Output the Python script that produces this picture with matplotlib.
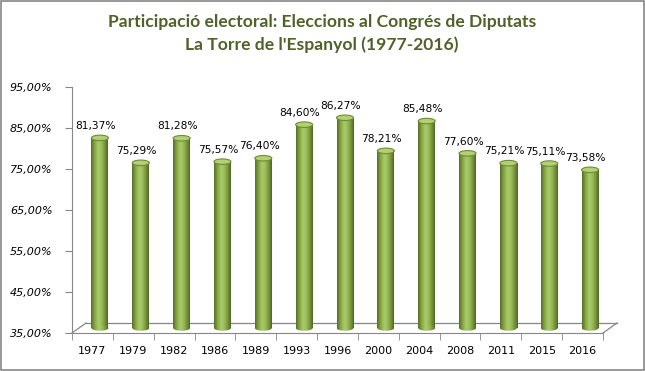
import matplotlib
matplotlib.use("Agg")
import matplotlib.pyplot as plt
import numpy as np
from matplotlib.patches import Rectangle, Ellipse
from matplotlib.colors import LinearSegmentedColormap
from matplotlib.ticker import FixedLocator

years = ["1977", "1979", "1982", "1986", "1989", "1993", "1996", "2000",
         "2004", "2008", "2011", "2015", "2016"]
participation = [81.37, 75.29, 81.28, 75.57, 76.40, 84.60, 86.27, 78.21,
                 85.48, 77.60, 75.21, 75.11, 73.58]
y_ticks = [35, 45, 55, 65, 75, 85, 95]
title_lines = ["Participació electoral: Eleccions al Congrés de Diputats",
               "La Torre de l'Espanyol (1977-2016)"]

W, H = 645, 371
fig = plt.figure(figsize=(W / 100, H / 100), dpi=100)
fig.patch.set_facecolor("white")

# axes placement in pixels
ax_l, ax_r, ax_b, ax_t = 72, 603, 333, 87
ax = fig.add_axes([ax_l / W, (H - ax_b) / H, (ax_r - ax_l) / W, (ax_b - ax_t) / H])
ax.set_xlim(0, len(years))
ax.set_ylim(35, 95)
ax.set_facecolor("none")

px_x = (ax_r - ax_l) / len(years)      # pixels per category
px_y = (ax_b - ax_t) / 60.0            # pixels per percent

grey = "#868686"
for s in ["top", "right"]:
    ax.spines[s].set_visible(False)
ax.spines["left"].set_color(grey)
ax.spines["bottom"].set_color(grey)

# 3D floor
dx_floor = 14 / px_x
dy_floor = 10 / px_y
n = len(years)
ax.plot([0, dx_floor], [35, 35 + dy_floor], color=grey, lw=0.9, clip_on=False)
ax.plot([n, n + dx_floor], [35, 35 + dy_floor], color=grey, lw=0.9, clip_on=False)
ax.plot([dx_floor, n + dx_floor], [35 + dy_floor, 35 + dy_floor], color=grey, lw=0.9, clip_on=False)

# cylinder gradient
cmap = LinearSegmentedColormap.from_list(
    "cyl", [(0.0, "#566f28"), (0.18, "#7f9f40"), (0.42, "#aacb6a"),
            (0.6, "#9fbf5d"), (0.85, "#718f37"), (1.0, "#506823")])
grad = np.linspace(0, 1, 64).reshape(1, -1)

bw = 17 / px_x
off_x = 7.5 / px_x
dz = 5 / px_y
eh = 5.5 / px_y
for i, v in enumerate(participation):
    xc = i + 0.5 + off_x
    x0, x1 = xc - bw / 2, xc + bw / 2
    base = 35 + dz
    top = v + dz
    rect = Rectangle((x0, base), bw, top - base, transform=ax.transData)
    im = ax.imshow(grad, cmap=cmap, extent=[x0, x1, base - eh, top], aspect="auto",
                   zorder=3, interpolation="bilinear")
    im.set_clip_path(rect)
    ell_b = Ellipse((xc, base), bw, eh, transform=ax.transData)
    im2 = ax.imshow(grad, cmap=cmap, extent=[x0, x1, base - eh, top], aspect="auto",
                    zorder=3, interpolation="bilinear")
    im2.set_clip_path(ell_b)
    cap = Ellipse((xc, top), bw, eh, facecolor="#b3d073", edgecolor="#6d8b37",
                  lw=0.8, zorder=4)
    ax.add_patch(cap)
    ax.annotate(f"{v:.2f}%".replace(".", ","), (i + 0.58, top), xytext=(0, 8.5),
                textcoords="offset points", ha="center", va="center",
                fontsize=7.7, color="black", zorder=5, family="DejaVu Sans")

ax.set_xlim(0, n)
ax.set_ylim(35, 95)

# ticks
ax.set_yticks(y_ticks)
ax.set_yticklabels([f"{t:.2f}%".replace(".", ",") for t in y_ticks],
                   fontsize=8, style="italic")
ax.tick_params(axis="y", length=5, color=grey, pad=9, direction="out")
ax.set_xticks(np.arange(n) + 0.5)
ax.set_xticklabels(years, fontsize=8)
ax.tick_params(axis="x", which="major", length=0, pad=9)
ax.xaxis.set_minor_locator(FixedLocator(np.arange(n + 1)))
ax.tick_params(axis="x", which="minor", length=5, color=grey, direction="out")

# title
title_color = "#4f6228"
fig.text(322 / W, 1 - 22 / H, title_lines[0], ha="center", va="center",
         fontsize=12.6, fontweight="bold", color=title_color, family=["Lato", "DejaVu Sans"])
fig.text(322 / W, 1 - 45 / H, title_lines[1], ha="center", va="center",
         fontsize=12.6, fontweight="bold", color=title_color, family=["Lato", "DejaVu Sans"])

# outer border
fig.patches.append(Rectangle((0.5 / W, 1.5 / H), (W - 2) / W, (H - 2.5) / H,
                             transform=fig.transFigure, fill=False,
                             edgecolor=grey, lw=1.2))

fig.savefig("out.png", dpi=100)
